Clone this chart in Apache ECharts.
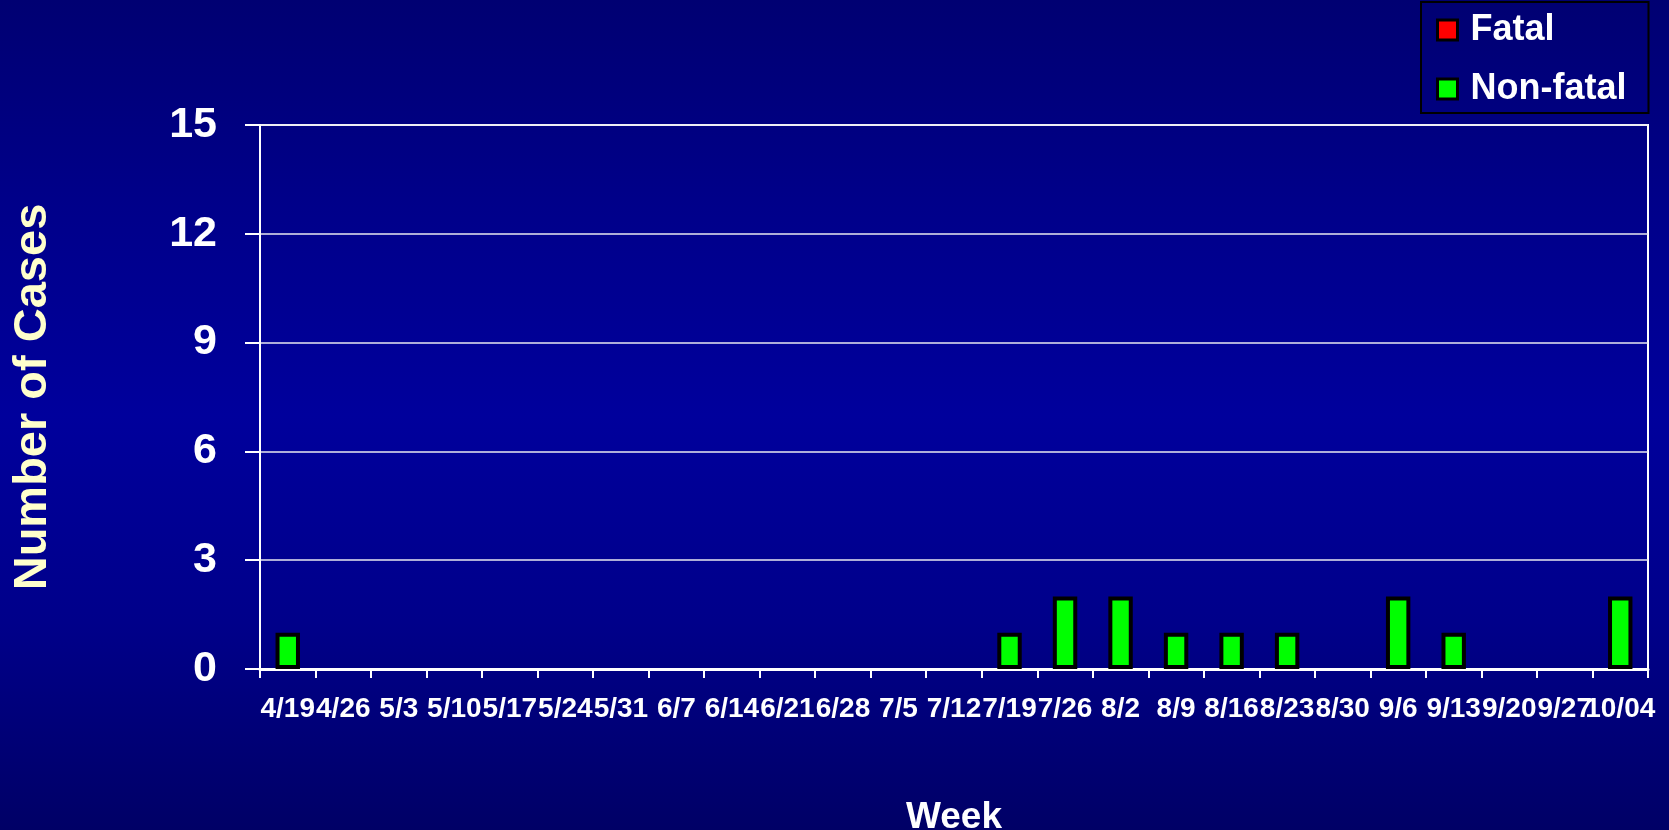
<!DOCTYPE html>
<html>
<head>
<meta charset="utf-8">
<script src="https://cdn.jsdelivr.net/npm/echarts@6/dist/echarts.min.js"></script>
<style>
  html, body { margin: 0; padding: 0; }
  #chart {
    width: 1669px; height: 830px;
    background: linear-gradient(to bottom, #000072 0%, #00008A 25%, #00009C 50%, #00008A 75%, #000066 100%);
  }
</style>
</head>
<body>
<div id="chart"></div>
<script>
const weeks = ['4/19','4/26','5/3','5/10','5/17','5/24','5/31','6/7','6/14','6/21','6/28','7/5','7/12','7/19','7/26','8/2','8/9','8/16','8/23','8/30','9/6','9/13','9/20','9/27','10/04'];
const nonFatal = [1,0,0,0,0,0,0,0,0,0,0,0,0,1,2,2,1,1,1,0,2,1,0,0,2];
const fatal    = [0,0,0,0,0,0,0,0,0,0,0,0,0,0,0,0,0,0,0,0,0,0,0,0,0];
const yTitle = 'Number of Cases';
const xTitle = 'Week';

// zero-height bars are not drawn
const hideZero = arr => arr.map(v => (v === 0 ? '-' : v));

const FONT = '"Liberation Sans", Arial, sans-serif';
const chart = echarts.init(document.getElementById('chart'), null, { renderer: 'canvas' });
chart.setOption({
  backgroundColor: 'transparent',
  animation: false,
  grid: { left: 260, right: 21, top: 125, bottom: 161, outerBoundsMode: 'none', containLabel: false,
          show: true, borderColor: '#ffffff', borderWidth: 2, backgroundColor: 'transparent' },
  legend: {
    data: ['Fatal', 'Non-fatal'],
    orient: 'vertical',
    left: 1421, top: 2,
    padding: [10, 22, 6, 15],
    itemWidth: 20, itemHeight: 20,
    itemGap: 23,
    borderColor: '#000000', borderWidth: 2,
    icon: 'rect',
    itemStyle: { borderColor: '#000000', borderWidth: 3 },
    textStyle: { color: '#ffffff', fontFamily: FONT, fontWeight: 'bold', fontSize: 36, lineHeight: 36, padding: [0, 0, 0, 8] }
  },
  xAxis: {
    type: 'category',
    data: weeks,
    name: xTitle,
    nameLocation: 'middle',
    nameGap: 130,
    nameTextStyle: { color: '#ffffff', fontFamily: FONT, fontWeight: 'bold', fontSize: 37 },
    axisLine: { show: true, lineStyle: { color: '#ffffff', width: 3 } },
    axisTick: { show: true, length: 9, interval: 0, lineStyle: { color: '#ffffff', width: 2 } },
    axisLabel: { interval: 0, hideOverlap: false, color: '#ffffff', fontFamily: FONT, fontWeight: 'bold', fontSize: 28, lineHeight: 28, margin: 26 },
    splitLine: { show: false }
  },
  yAxis: {
    type: 'value',
    min: 0, max: 15, interval: 3,
    name: yTitle,
    nameLocation: 'middle',
    nameGap: 203,
    nameRotate: 90,
    nameTextStyle: { color: '#FFFFCC', fontFamily: FONT, fontWeight: 'bold', fontSize: 47 },
    axisLine: { show: true, lineStyle: { color: '#ffffff', width: 2 } },
    axisTick: { show: true, length: 15, lineStyle: { color: '#ffffff', width: 2 } },
    axisLabel: { color: '#ffffff', fontFamily: FONT, fontWeight: 'bold', fontSize: 43, margin: 43 },
    splitLine: { show: true, lineStyle: { color: '#e8e8f0', width: 1.5 } }
  },
  series: [
    {
      name: 'Non-fatal', type: 'bar', stack: 'cases', data: hideZero(nonFatal), barWidth: '44%',
      itemStyle: { color: '#00FF00', borderColor: '#000000', borderWidth: 4 }
    },
    {
      name: 'Fatal', type: 'bar', stack: 'cases', data: hideZero(fatal), barWidth: '44%',
      itemStyle: { color: '#FF0000', borderColor: '#000000', borderWidth: 4 }
    }
  ]
});
</script>
</body>
</html>
